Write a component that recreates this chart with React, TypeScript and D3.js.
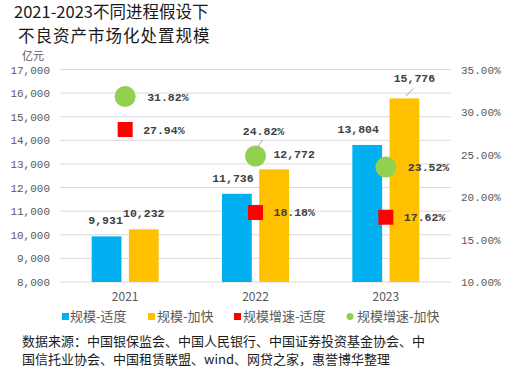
import React from "react";
import * as d3 from "d3";

const years = ["2021", "2022", "2023"];
const scaleModerate = [9931, 11736, 13804];
const scaleFast = [10232, 12772, 15776];
const growthModerate = [27.94, 18.18, 17.62];
const growthFast = [31.82, 24.82, 23.52];
const leftTicks = [8000, 9000, 10000, 11000, 12000, 13000, 14000, 15000, 16000, 17000];
const rightTicks = [10, 15, 20, 25, 30, 35];
const legendLabels = ["规模-适度", "规模-加快", "规模增速-适度", "规模增速-加快"];
const titleLines = ["2021-2023不同进程假设下", "不良资产市场化处置规模"];
const sourceLines = [
  "数据来源：中国银保监会、中国人民银行、中国证券投资基金协会、中",
  "国信托业协会、中国租赁联盟、wind、网贷之家，惠誉博华整理",
];

// label placement (style) tweaks
const moderateLabelDx = [-1, -4, -9];
const fastLabelDx = [0, 20, 10];
const fastLabelGap = [12, 11, 16];

const BLUE = "#00B0F0";
const YELLOW = "#FFC000";
const RED = "#FF0000";
const GREEN = "#92D050";
const GRID = "#D9D9D9";
const AXIS_TXT = "#595959";
const LBL = "#404040";
const MONO = "'Liberation Mono', 'DejaVu Sans Mono', monospace";
const CJK = "'Noto Sans CJK SC', 'Noto Sans', sans-serif";

export default function App() {
  const W = 515, H = 376;
  const left = 60, right = 451, top = 69.5, bottom = 282;
  const x0 = d3.scaleBand().domain(years).range([left, right]).padding(0);
  const x1 = d3.scaleBand().domain(["m", "f"]).range([0, 67]).paddingInner(0.2).paddingOuter(0);
  const yL = d3.scaleLinear().domain([8000, 17000]).range([bottom, top]);
  const yR = d3.scaleLinear().domain([10, 35]).range([bottom, top]);
  const fmt = d3.format(",");
  const pct = (v: number) => v.toFixed(2) + "%";
  const center = (y: string) => (x0(y) as number) + x0.bandwidth() / 2;
  const groupStart = (y: string) => center(y) - 33.5;

  const legendItems = [
    { x: 62, tx: 70, color: BLUE, shape: "sq" },
    { x: 148, tx: 157, color: YELLOW, shape: "sq" },
    { x: 234, tx: 243, color: RED, shape: "sq" },
    { x: 350, tx: 357, color: GREEN, shape: "ci" },
  ];

  return (
    <svg width={W} height={H} style={{ position: "absolute", left: 0, top: 0, background: "#fff" }}>
      <rect width={W} height={H} fill="#fff" />
      {/* title */}
      <text x={14} y={18.3} fontFamily={CJK} fontSize={16.5} fill="#1a1a1a">{titleLines[0]}</text>
      <text x={18} y={41.5} fontFamily={CJK} fontSize={16.5} fill="#1a1a1a" letterSpacing={1}>{titleLines[1]}</text>
      <text x={22} y={59.5} fontFamily={CJK} fontSize={11} fill={AXIS_TXT}>亿元</text>

      {/* gridlines */}
      {leftTicks.map((t) => (
        <line key={t} x1={left} x2={right} y1={yL(t)} y2={yL(t)} stroke={GRID} strokeWidth={1} />
      ))}
      {leftTicks.map((t) => (
        <text key={"l" + t} x={50} y={yL(t) + 4} textAnchor="end" fontFamily={MONO} fontSize={11} fill={AXIS_TXT}>
          {fmt(t)}
        </text>
      ))}
      {rightTicks.map((t) => (
        <text key={"r" + t} x={461} y={yR(t) + 4} fontFamily={MONO} fontSize={11} fill={AXIS_TXT}>
          {t.toFixed(2) + "%"}
        </text>
      ))}
      {years.map((y) => (
        <text key={"x" + y} x={center(y)} y={301} textAnchor="middle" fontFamily={CJK} fontSize={12} fill={AXIS_TXT}>
          {y}
        </text>
      ))}

      {/* bars */}
      {years.map((y, i) => {
        const gx = groupStart(y);
        const mx = gx + (x1("m") as number);
        const fx = gx + (x1("f") as number);
        const bw = x1.bandwidth();
        return (
          <g key={"b" + y}>
            <rect x={mx} y={yL(scaleModerate[i])} width={bw} height={bottom - yL(scaleModerate[i])} fill={BLUE} />
            <rect x={fx} y={yL(scaleFast[i])} width={bw} height={bottom - yL(scaleFast[i])} fill={YELLOW} />
          </g>
        );
      })}

      {/* markers */}
      {years.map((y, i) => {
        const cx = center(y);
        const sy = yR(growthModerate[i]);
        const cy = yR(growthFast[i]);
        return (
          <g key={"m" + y}>
            <rect x={cx - 7.5} y={sy - 7.5} width={15} height={15} fill={RED} />
            <circle cx={cx} cy={cy} r={10.5} fill={GREEN} />
          </g>
        );
      })}

      {/* labels */}
      {years.map((y, i) => {
        const gx = groupStart(y);
        const bw = x1.bandwidth();
        const mx = gx + (x1("m") as number) + bw / 2;
        const fx = gx + (x1("f") as number) + bw / 2;
        const cx = center(y);
        const els: React.ReactNode[] = [];
        els.push(
          <text key="lm" x={mx + moderateLabelDx[i]} y={yL(scaleModerate[i]) - 12} textAnchor="middle" fontFamily={MONO} fontWeight="bold" fontSize={11.5} fill={LBL}>
            {fmt(scaleModerate[i])}
          </text>
        );
        const fy = yL(scaleFast[i]) - fastLabelGap[i];
        els.push(
          <text key="lf" x={fx + fastLabelDx[i]} y={fy} textAnchor="middle" fontFamily={MONO} fontWeight="bold" fontSize={11.5} fill={LBL}>
            {fmt(scaleFast[i])}
          </text>
        );
        if (i === 2) {
          els.push(<line key="ll" x1={fx + 1} y1={yL(scaleFast[i]) - 2} x2={fx + 9} y2={fy + 6} stroke="#A6A6A6" strokeWidth={1} />);
        }
        els.push(
          <text key="lsm" x={cx + 18} y={yR(growthModerate[i]) + 4} fontFamily={MONO} fontWeight="bold" fontSize={11.5} fill={LBL}>
            {pct(growthModerate[i])}
          </text>
        );
        if (i === 1) {
          const cy = yR(growthFast[i]);
          els.push(<line key="gl" x1={cx} y1={cy - 6} x2={cx + 7} y2={cy - 16} stroke="#A6A6A6" strokeWidth={1} />);
          els.push(
            <text key="lsf" x={cx + 8} y={cy - 21} textAnchor="middle" fontFamily={MONO} fontWeight="bold" fontSize={11.5} fill={LBL}>
              {pct(growthFast[i])}
            </text>
          );
        } else {
          els.push(
            <text key="lsf" x={cx + 22} y={yR(growthFast[i]) + 4} fontFamily={MONO} fontWeight="bold" fontSize={11.5} fill={LBL}>
              {pct(growthFast[i])}
            </text>
          );
        }
        return <g key={"lab" + y}>{els}</g>;
      })}

      {/* legend */}
      {legendItems.map((it, i) => (
        <g key={"lg" + i}>
          {it.shape === "sq" ? (
            <rect x={it.x} y={313} width={7} height={7} fill={it.color} />
          ) : (
            <circle cx={it.x} cy={316.5} r={3.5} fill={it.color} />
          )}
          <text x={it.tx} y={321} fontFamily={CJK} fontSize={13} fill={AXIS_TXT}>{legendLabels[i]}</text>
        </g>
      ))}

      {/* source */}
      {sourceLines.map((s, i) => (
        <text key={"s" + i} x={22} y={346 + i * 18} fontFamily={CJK} fontSize={13} fill="#1a1a1a">{s}</text>
      ))}
    </svg>
  );
}
